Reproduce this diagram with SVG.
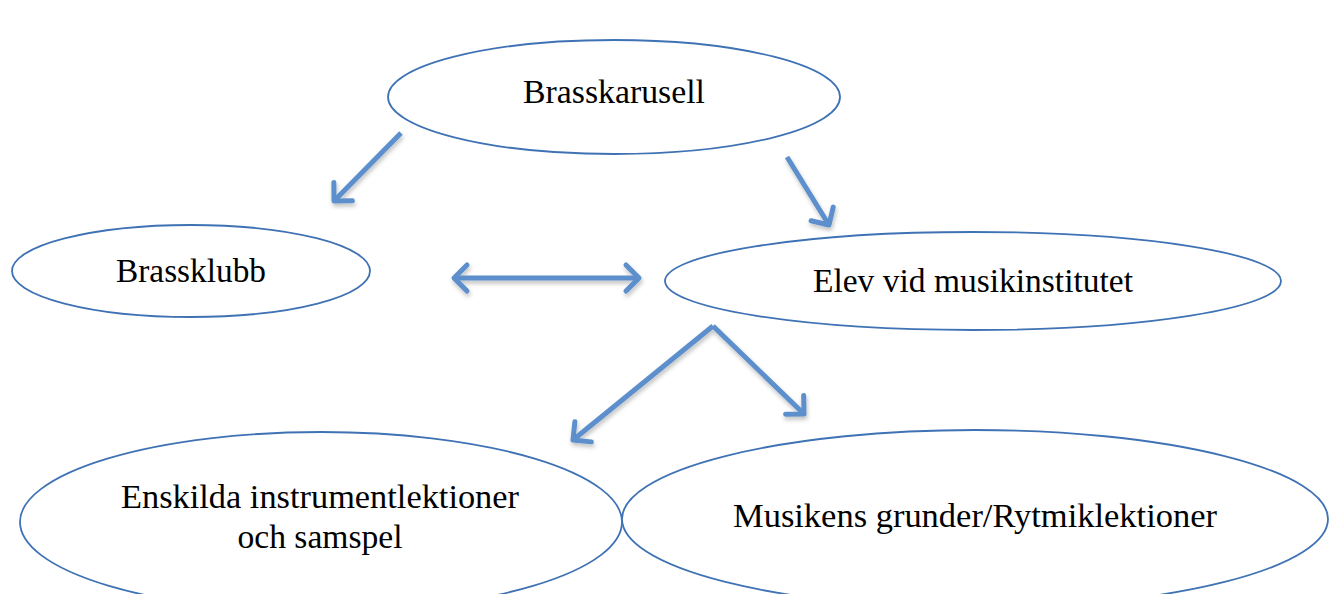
<svg xmlns="http://www.w3.org/2000/svg" width="1337" height="594" viewBox="0 0 1337 594">
<style>
.node ellipse{fill:#ffffff;stroke:#3f72b4;stroke-width:1.8}
.node text{font-family:"Liberation Serif","Times New Roman",serif;font-size:33px;fill:#000000;text-anchor:middle}
.conn line{stroke:#5b8fcb;stroke-width:5;fill:none}
</style>
<defs>
<filter id="sh" x="-20%" y="-20%" width="140%" height="140%">
<feDropShadow dx="1" dy="3" stdDeviation="2" flood-color="#000" flood-opacity="0.25"/>
</filter>
<marker id="ah" markerUnits="userSpaceOnUse" viewBox="-16 -16 20 32" refX="0" refY="0" markerWidth="20" markerHeight="32" orient="auto-start-reverse" overflow="visible">
<path d="M-13,-13 L0,0 L-13,13" fill="none" stroke="#5b8fcb" stroke-width="5" stroke-linecap="round" stroke-linejoin="round"/>
</marker>
</defs>
<rect width="1337" height="594" fill="#ffffff"/>
<g id="n1" class="node"><ellipse cx="614" cy="97" rx="226" ry="57"/><text x="614" y="103" textLength="182" lengthAdjust="spacingAndGlyphs">Brasskarusell</text></g>
<g id="n2" class="node"><ellipse cx="191" cy="271" rx="179" ry="46"/><text x="191" y="282" textLength="150" lengthAdjust="spacingAndGlyphs">Brassklubb</text></g>
<g id="n3" class="node"><ellipse cx="973" cy="281" rx="308" ry="49"/><text x="973" y="292" textLength="320" lengthAdjust="spacingAndGlyphs">Elev vid musikinstitutet</text></g>
<g id="n4" class="node"><ellipse cx="321" cy="522" rx="301" ry="90"/><text x="320" y="508" textLength="398" lengthAdjust="spacingAndGlyphs">Enskilda instrumentlektioner</text><text x="320" y="548" textLength="165" lengthAdjust="spacingAndGlyphs">och samspel</text></g>
<g id="n5" class="node"><ellipse cx="975" cy="519" rx="353" ry="89"/><text x="975" y="527" textLength="484" lengthAdjust="spacingAndGlyphs">Musikens grunder/Rytmiklektioner</text></g>
<g id="connectors" class="conn" filter="url(#sh)">
<line x1="401" y1="133" x2="334" y2="201" marker-end="url(#ah)"/>
<line x1="787" y1="157" x2="829" y2="225" marker-end="url(#ah)"/>
<line x1="454" y1="278" x2="639" y2="278" marker-start="url(#ah)" marker-end="url(#ah)"/>
<line x1="713" y1="326" x2="573" y2="440" marker-end="url(#ah)"/>
<line x1="713" y1="326" x2="804" y2="414" marker-end="url(#ah)"/>
</g>
</svg>
